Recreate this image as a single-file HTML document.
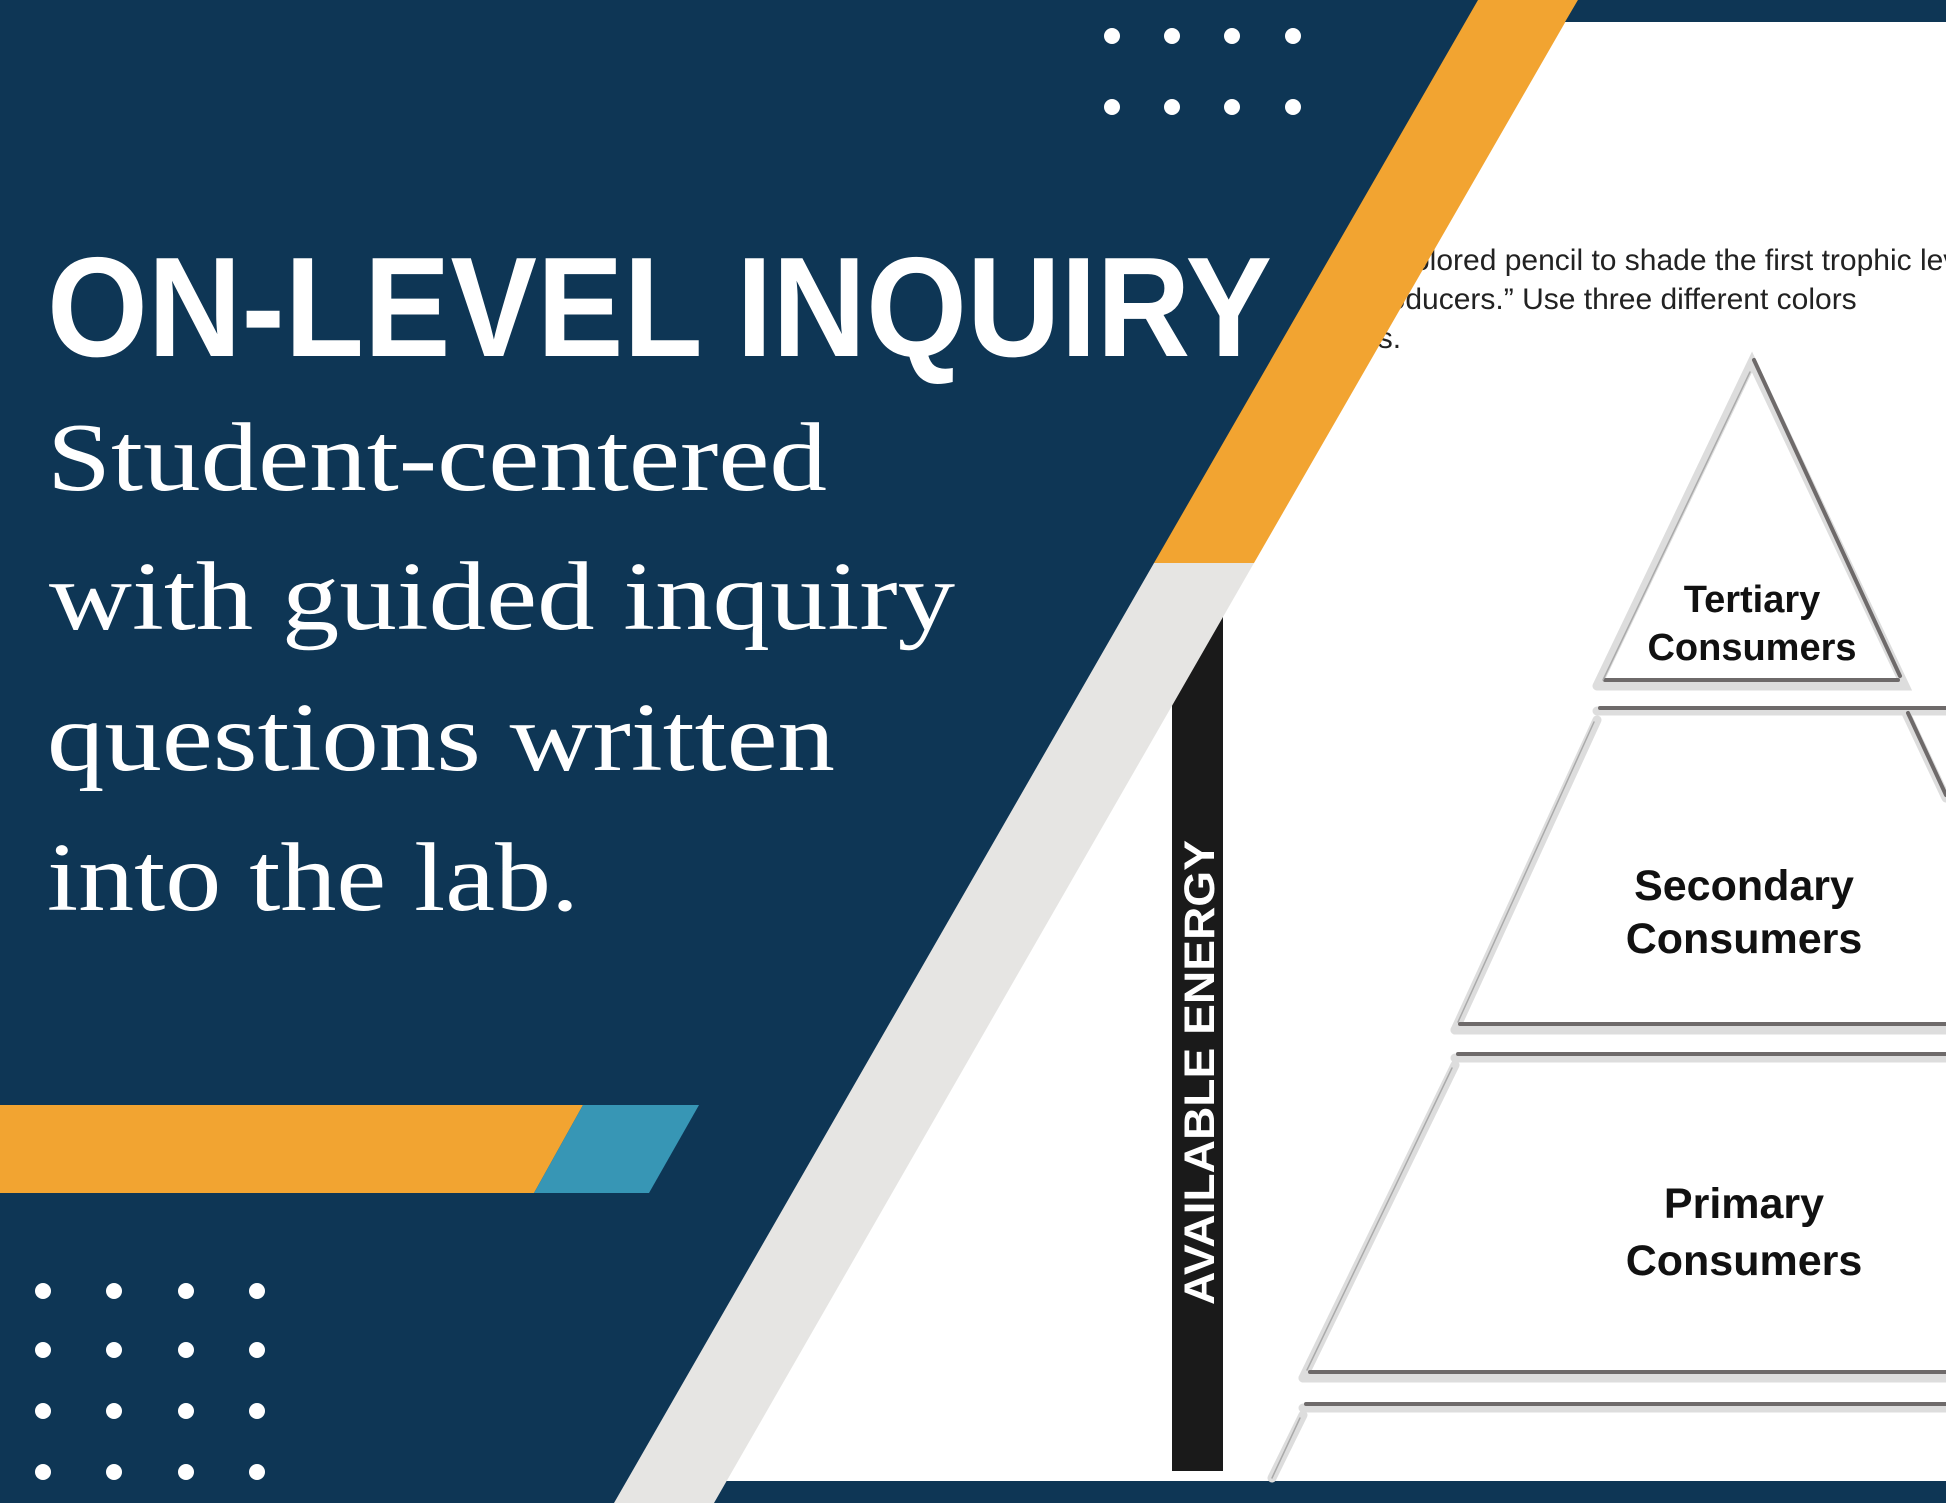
<!DOCTYPE html>
<html><head><meta charset="utf-8"><style>
html,body{margin:0;padding:0;width:1946px;height:1503px;overflow:hidden;background:#0e3655}
svg{display:block}
</style></head><body>
<svg width="1946" height="1503" viewBox="0 0 1946 1503" xmlns="http://www.w3.org/2000/svg">
<rect width="1946" height="1503" fill="#0e3655"/>
<!-- white document -->
<polygon points="1540,22 1946,22 1946,1481 680,1481" fill="#fff"/>
<rect x="714" y="1481" width="1232" height="22" fill="#0e3655"/>
<!-- instructions text -->
<g font-family="Liberation Sans, sans-serif" font-size="30" fill="#222">
<text x="1398" y="270">colored pencil to shade the first trophic level</text>
<text x="1362" y="309">producers.” Use three different colors</text>
<text x="1316" y="348">levels.</text>
</g>
<!-- black energy bar -->
<rect x="1172" y="560" width="51" height="911" fill="#1a1a1a"/>
<text transform="translate(1214,1305) rotate(-90)" font-family="Liberation Sans, sans-serif" font-weight="bold" font-size="43" fill="#fff" textLength="465" lengthAdjust="spacingAndGlyphs">AVAILABLE ENERGY</text>
<!-- pyramid -->
<g fill="none" stroke-linecap="round">
<g stroke="#ddd" stroke-width="9">
<polyline points="1597,686 1752,362 1905,686 1597,686"/>
<line x1="1597" y1="711" x2="1946" y2="711"/>
<line x1="1597" y1="720" x2="1455" y2="1030"/>
<line x1="1905" y1="711" x2="1946" y2="798"/>
<line x1="1455" y1="1030" x2="1946" y2="1030"/>
<line x1="1455" y1="1058" x2="1946" y2="1058"/>
<line x1="1455" y1="1065" x2="1303" y2="1378"/>
<line x1="1303" y1="1378" x2="1946" y2="1378"/>
<line x1="1303" y1="1408" x2="1946" y2="1408"/>
<line x1="1303" y1="1415" x2="1272" y2="1478"/>
</g>
<g stroke="#6e6a6a" stroke-width="4">
<line x1="1754" y1="360" x2="1900" y2="676"/>
<line x1="1605" y1="680" x2="1898" y2="680"/>
<line x1="1600" y1="708" x2="1946" y2="708"/>
<line x1="1908" y1="713" x2="1946" y2="795"/>
<line x1="1460" y1="1024" x2="1946" y2="1024"/>
<line x1="1458" y1="1054" x2="1946" y2="1054"/>
<line x1="1310" y1="1372" x2="1946" y2="1372"/>
<line x1="1306" y1="1404" x2="1946" y2="1404"/>
</g>
<g stroke="#aaa" stroke-width="1.5">
<line x1="1750" y1="372" x2="1603" y2="680"/>
<line x1="1594" y1="722" x2="1458" y2="1022"/>
<line x1="1452" y1="1068" x2="1307" y2="1370"/>
<line x1="1300" y1="1418" x2="1272" y2="1478"/>
</g>
</g>
<g font-family="Liberation Sans, sans-serif" font-weight="bold" fill="#111" text-anchor="middle">
<text x="1752" y="612" font-size="38">Tertiary</text>
<text x="1752" y="660" font-size="38">Consumers</text>
<text x="1744" y="900" font-size="43">Secondary</text>
<text x="1744" y="953" font-size="43">Consumers</text>
<text x="1744" y="1218" font-size="43">Primary</text>
<text x="1744" y="1275" font-size="43">Consumers</text>
</g>
<!-- diagonal band -->
<polygon points="1478,0 1578,0 1254,563 1154,563" fill="#f2a431"/>
<polygon points="1154,563 1254,563 714,1503 614,1503" fill="#e6e5e3"/>
<!-- navy top strip right -->
<polygon points="1578,0 1946,0 1946,22 1565,22" fill="#0e3655"/>
<!-- dots -->
<g fill="#fff">
<circle cx="1112" cy="36" r="8"/><circle cx="1172" cy="36" r="8"/><circle cx="1232" cy="36" r="8"/><circle cx="1293" cy="36" r="8"/>
<circle cx="1112" cy="107" r="8"/><circle cx="1172" cy="107" r="8"/><circle cx="1232" cy="107" r="8"/><circle cx="1293" cy="107" r="8"/>
<circle cx="43" cy="1291" r="8"/><circle cx="114" cy="1291" r="8"/><circle cx="186" cy="1291" r="8"/><circle cx="257" cy="1291" r="8"/>
<circle cx="43" cy="1350" r="8"/><circle cx="114" cy="1350" r="8"/><circle cx="186" cy="1350" r="8"/><circle cx="257" cy="1350" r="8"/>
<circle cx="43" cy="1411" r="8"/><circle cx="114" cy="1411" r="8"/><circle cx="186" cy="1411" r="8"/><circle cx="257" cy="1411" r="8"/>
<circle cx="43" cy="1472" r="8"/><circle cx="114" cy="1472" r="8"/><circle cx="186" cy="1472" r="8"/><circle cx="257" cy="1472" r="8"/>
</g>
<!-- orange/blue bar -->
<polygon points="0,1105 583,1105 534,1193 0,1193" fill="#f2a431"/>
<polygon points="583,1105 699,1105 649,1193 534,1193" fill="#3796b5"/>
<!-- headline -->
<text x="47" y="356" font-family="Liberation Sans, sans-serif" font-weight="bold" font-size="142" fill="#fff" textLength="1225" lengthAdjust="spacingAndGlyphs">ON-LEVEL INQUIRY</text>
<g font-family="Liberation Serif, serif" font-size="98" fill="#fff">
<text x="47" y="490" textLength="780" lengthAdjust="spacingAndGlyphs">Student-centered</text>
<text x="49" y="629" textLength="906" lengthAdjust="spacingAndGlyphs">with guided inquiry</text>
<text x="47" y="770" textLength="788" lengthAdjust="spacingAndGlyphs">questions written</text>
<text x="47" y="910" textLength="532" lengthAdjust="spacingAndGlyphs">into the lab.</text>
</g>
</svg>
</body></html>
